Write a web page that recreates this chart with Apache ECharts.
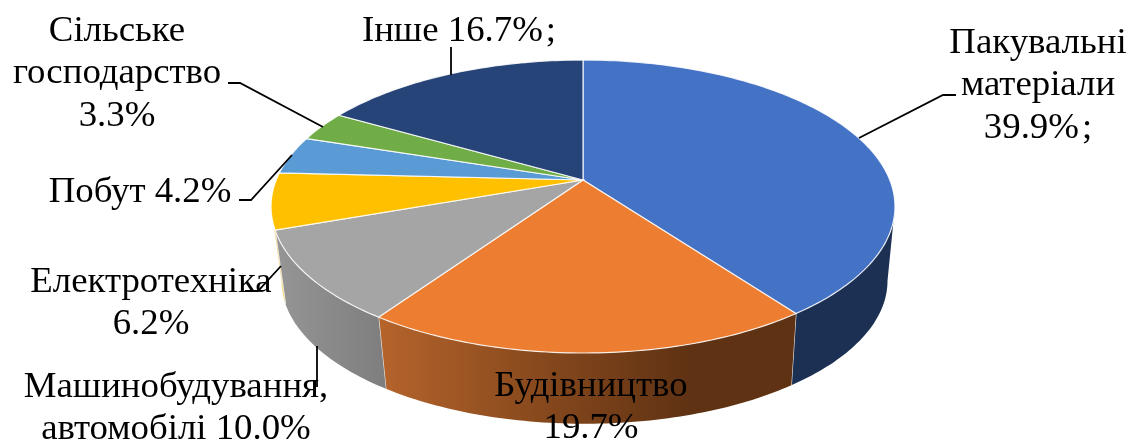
<!DOCTYPE html>
<html>
<head>
<meta charset="utf-8">
<title>Pie 3D</title>
<script src="https://cdn.jsdelivr.net/npm/echarts@6/dist/echarts.min.js"></script>
<style>
  html, body { margin: 0; padding: 0; background: #fff; }
  #chart { width: 1138px; height: 441px; }
</style>
</head>
<body>
<div id="chart"></div>
<script>
const categories = ['Пакувальні матеріали', 'Будівництво', 'Машинобудування, автомобілі', 'Електротехніка', 'Побут', 'Сільське господарство', 'Інше'];
const shares = [39.9, 19.7, 10.0, 6.2, 4.2, 3.3, 16.7];
const labelTexts = [
  'Пакувальні\nматеріали\n{v}%\u200A;',
  'Будівництво\n{v}%',
  'Машинобудування,\nавтомобілі {v}%',
  'Електротехніка\n{v}%',
  'Побут {v}%',
  'Сільське\nгосподарство\n{v}%',
  'Інше {v}%\u200A;'
];

// slice colours, top face
const topColors = ['#4472C4', '#ED7D31', '#A5A5A5', '#FFC000', '#5B9BD5', '#70AD47', '#264478'];

// label placement: [centre x, top y]
const labelPos = [[1038, 22], [591, 365], [176, 366], [151, 261], [140, 171], [117, 10], [459, 10]];
const leaders = [
  [[859, 138], [943, 95], [956, 95]],
  null,
  [[317, 346], [317, 387]],
  [[245, 291], [258, 291], [281, 266]],
  [[239, 200], [251, 200], [292, 155]],
  [[228, 83], [240, 83], [323, 127]],
  [[451, 47], [451, 75]]
];

// perspective projection of the disc, theta is clockwise from 12 o'clock
const K = 0.181;
const topDisc = { cx: 583, cy: 180, a: 306.8, b: 141.7 };
const botDisc = { cx: 584.5, cy: 255, a: 298, b: 138.2 };
// visible part of the wall
const wallFrom = 100.4;
const wallTo = 259.6;

function project(disc, deg) {
  const t = deg * Math.PI / 180;
  const s = 1 / (1 + K * Math.cos(t));
  return [disc.cx + disc.a * Math.sin(t) * s, disc.cy - disc.b * Math.cos(t) * s];
}

function arc(disc, from, to) {
  const pts = [];
  const n = Math.max(2, Math.ceil(Math.abs(to - from)));
  for (let i = 0; i <= n; i++) {
    pts.push(project(disc, from + (to - from) * i / n));
  }
  return pts;
}

function wallFill(i) {
  if (i === 0) return '#1C3054';
  if (i === 1) {
    return new echarts.graphic.LinearGradient(380, 0, 690, 0, [
      { offset: 0, color: '#B5642B' },
      { offset: 0.55, color: '#84471C' },
      { offset: 1, color: '#5F3213' }
    ], true);
  }
  if (i === 2) {
    return new echarts.graphic.LinearGradient(282, 0, 385, 0, [
      { offset: 0, color: '#949494' },
      { offset: 1, color: '#7E7E7E' }
    ], true);
  }
  return '#F8DE93';
}

function renderSlice(params, api) {
  const i = params.dataIndex;
  const start = api.value(1) * 3.6;
  const end = (api.value(1) + api.value(0)) * 3.6;
  const children = [];

  const wa = Math.max(start, wallFrom);
  const wb = Math.min(end, wallTo);
  if (wa < wb) {
    children.push({
      type: 'polygon',
      shape: { points: arc(topDisc, wa, wb).concat(arc(botDisc, wb, wa)) },
      style: { fill: wallFill(i) }
    });
    if (end < wallTo) {
      children.push({
        type: 'line',
        shape: {
          x1: project(topDisc, end)[0], y1: project(topDisc, end)[1],
          x2: project(botDisc, end)[0], y2: project(botDisc, end)[1]
        },
        style: { stroke: '#E8E8E8', lineWidth: 1.2 }
      });
    }
  }

  children.push({
    type: 'polygon',
    shape: { points: [[topDisc.cx, topDisc.cy]].concat(arc(topDisc, start, end)) },
    style: { fill: topColors[i], stroke: 'rgba(255,255,255,0.85)', lineWidth: 1.2 }
  });
  return { type: 'group', children: children };
}

function renderLabel(params, api) {
  const i = params.dataIndex;
  const children = [];
  if (leaders[i]) {
    children.push({
      type: 'polyline',
      shape: { points: leaders[i] },
      style: { stroke: '#000', lineWidth: 1.8, fill: null }
    });
  }
  children.push({
    type: 'text',
    style: {
      text: labelTexts[i].replace('{v}', api.value(0).toFixed(1)),
      x: labelPos[i][0],
      y: labelPos[i][1],
      align: 'center',
      verticalAlign: 'top',
      font: '36.8px "Liberation Serif"',
      lineHeight: 42.5,
      fill: '#000'
    }
  });
  return { type: 'group', children: children };
}

let running = 0;
const sliceData = shares.map((v, i) => {
  const item = { name: categories[i], value: [v, running] };
  running += v;
  return item;
});

const myChart = echarts.init(document.getElementById('chart'), null, { renderer: 'canvas' });
myChart.setOption({
  animation: false,
  backgroundColor: '#fff',
  series: [
    { type: 'custom', coordinateSystem: 'none', silent: true, z: 2, renderItem: renderSlice, data: sliceData },
    { type: 'custom', coordinateSystem: 'none', silent: true, z: 3, renderItem: renderLabel, data: sliceData }
  ]
});
</script>
</body>
</html>
